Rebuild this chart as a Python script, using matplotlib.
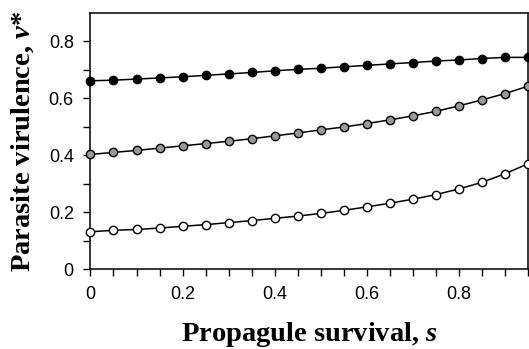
import numpy as np
import matplotlib
matplotlib.use("Agg")
import matplotlib.pyplot as plt

plt.rcParams["font.family"] = "Liberation Sans"
plt.rcParams["mathtext.fontset"] = "custom"
plt.rcParams["mathtext.it"] = "Liberation Serif:italic:bold"
plt.rcParams["mathtext.rm"] = "Liberation Serif:bold"

# propagule survival s (every 0.05)
s = [0.00, 0.05, 0.10, 0.15, 0.20, 0.25, 0.30, 0.35, 0.40, 0.45,
     0.50, 0.55, 0.60, 0.65, 0.70, 0.75, 0.80, 0.85, 0.90, 0.95]

# parasite virulence v* for the three curves
v_black = [0.661, 0.663, 0.667, 0.671, 0.675, 0.680, 0.685, 0.690, 0.696, 0.701,
           0.705, 0.710, 0.715, 0.720, 0.725, 0.730, 0.734, 0.739, 0.743, 0.743]
v_grey = [0.403, 0.410, 0.417, 0.425, 0.433, 0.441, 0.449, 0.458, 0.468, 0.478,
          0.489, 0.499, 0.511, 0.524, 0.538, 0.554, 0.573, 0.594, 0.616, 0.642]
v_white = [0.132, 0.137, 0.140, 0.145, 0.151, 0.157, 0.164, 0.171, 0.179, 0.187,
           0.196, 0.207, 0.219, 0.232, 0.246, 0.262, 0.282, 0.305, 0.335, 0.370]

x_ticks = [0.00, 0.05, 0.10, 0.15, 0.20, 0.25, 0.30, 0.35, 0.40, 0.45,
           0.50, 0.55, 0.60, 0.65, 0.70, 0.75, 0.80, 0.85, 0.90, 0.95]
x_labels = ["0", "", "", "", "0.2", "", "", "", "0.4", "",
            "", "", "0.6", "", "", "", "0.8", "", "", ""]
y_ticks = [0.0, 0.1, 0.2, 0.3, 0.4, 0.5, 0.6, 0.7, 0.8]
y_labels = ["0", "", "0.2", "", "0.4", "", "0.6", "", "0.8"]

fig = plt.figure(figsize=(5.29, 3.49), dpi=100)
ax = fig.add_axes([0.171, 0.228, 0.827, 0.736])

for v, fc in [(v_black, "black"), (v_grey, "#999999"), (v_white, "white")]:
    ax.plot(s, v, color="black", lw=1.1, marker="o", ms=6.0,
            mfc=fc, mec="black", mew=1.0, clip_on=False, zorder=3)

ax.set_xlim(0, 0.95)
ax.set_ylim(0, 0.9)
ax.set_xticks(x_ticks)
ax.set_xticklabels(x_labels)
ax.set_yticks(y_ticks)
ax.set_yticklabels(y_labels)

ax.tick_params(direction="out", length=5, width=1, labelsize=13, pad=7)
for sp in ax.spines.values():
    sp.set_linewidth(1.1)

ax.set_xlabel("Propagule survival, $s$", fontsize=20.5, family="Liberation Serif",
              fontweight="bold", labelpad=12)
ax.set_ylabel("Parasite virulence, $v$*", fontsize=20.5, family="Liberation Serif",
              fontweight="bold", labelpad=9)

fig.savefig("out.png", dpi=100)
